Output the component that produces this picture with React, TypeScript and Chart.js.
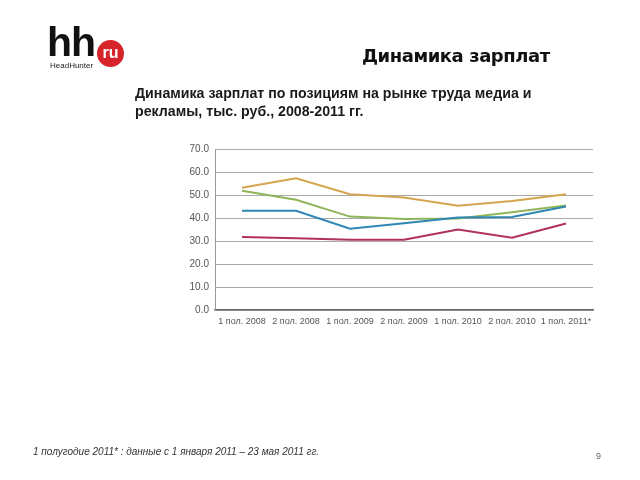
import React, { useEffect, useRef } from "react";
import { Chart, registerables } from "chart.js";

Chart.register(...registerables);

const categories = ["1 пол. 2008", "2 пол. 2008", "1 пол. 2009", "2 пол. 2009", "1 пол. 2010", "2 пол. 2010", "1 пол. 2011*"];
const seriesOrange = [53.2, 57.3, 50.3, 48.9, 45.3, 47.4, 50.3];
const seriesGreen = [51.8, 47.9, 40.6, 39.6, 39.8, 42.5, 45.4];
const seriesBlue = [43.1, 43.1, 35.3, 37.7, 40.2, 40.4, 45.0];
const seriesRed = [31.7, 31.2, 30.5, 30.5, 35.0, 31.4, 37.6];
const yTicks = [0, 10, 20, 30, 40, 50, 60, 70];

export default function App() {
  const ref = useRef<HTMLCanvasElement | null>(null);

  useEffect(() => {
    if (!ref.current) return;
    const mk = (data: number[], color: string) => ({
      data,
      borderColor: color,
      backgroundColor: color,
      borderWidth: 2,
      pointRadius: 0,
      tension: 0,
      fill: false,
    });
    const chart = new Chart(ref.current, {
      type: "line",
      data: {
        labels: categories,
        datasets: [
          mk(seriesRed, "#b03060"),
          mk(seriesBlue, "#2f86b3"),
          mk(seriesGreen, "#8fb55a"),
          mk(seriesOrange, "#d4a54e"),
        ],
      },
      options: {
        animation: false,
        responsive: false,
        maintainAspectRatio: false,
        layout: { padding: { left: 180, top: 149, right: 47, bottom: 150 } },
        plugins: { legend: { display: false }, tooltip: { enabled: false } },
        scales: {
          x: {
            offset: true,
            grid: { display: false, drawTicks: false },
            border: { display: true, color: "#666", width: 1.5 },
            ticks: {
              color: "#555",
              font: { family: "Liberation Sans, Arial", size: 9 },
              padding: 6,
              maxRotation: 0,
              autoSkip: false,
            },
            afterFit: (s: any) => {
              s.height = 20;
            },
          },
          y: {
            min: 0,
            max: 70,
            afterBuildTicks: (s: any) => {
              s.ticks = yTicks.map((v) => ({ value: v }));
            },
            grid: { color: "#aaa", lineWidth: 1, drawTicks: false },
            border: { display: true, color: "#999", width: 1 },
            ticks: {
              color: "#555",
              font: { family: "Liberation Sans, Arial", size: 10 },
              padding: 6,
              callback: (v: any) => Number(v).toFixed(1),
            },
            afterFit: (s: any) => {
              s.width = 35;
            },
          },
        },
      },
    });
    return () => chart.destroy();
  }, []);

  return (
    <div style={{ position: "fixed", left: 0, top: 0, width: 640, height: 480, background: "#fff", overflow: "hidden", fontFamily: "Liberation Sans, Arial, sans-serif" }}>
      <canvas ref={ref} width={640} height={480} style={{ position: "absolute", left: 0, top: 0, width: 640, height: 480 }} />
      {/* logo */}
      <div style={{ position: "absolute", left: 47, top: 22, fontSize: 41, fontWeight: 700, letterSpacing: -1, color: "#111", lineHeight: 1, fontFamily: "Liberation Sans, Arial" }}>hh</div>
      <div style={{ position: "absolute", left: 97, top: 40, width: 27, height: 27, borderRadius: "50%", background: "#d7232a", color: "#fff", fontSize: 16, fontWeight: 700, lineHeight: "25px", textAlign: "center", fontFamily: "Liberation Sans, Arial" }}>ru</div>
      <div style={{ position: "absolute", left: 50, top: 61, fontSize: 8, color: "#222", fontFamily: "Liberation Sans, Arial" }}>HeadHunter</div>
      {/* title */}
      <div style={{ position: "absolute", left: 362, top: 45, fontSize: 18, letterSpacing: -0.45, fontWeight: 700, color: "#111", fontFamily: "DejaVu Sans, Verdana", whiteSpace: "nowrap" }}>Динамика зарплат</div>
      <div style={{ position: "absolute", left: 135, top: 84, fontSize: 14.2, fontWeight: 700, color: "#1a1a1a", lineHeight: "18px", whiteSpace: "nowrap" }}>
        Динамика зарплат по позициям на рынке труда медиа и
        <br />
        рекламы, тыс. руб., 2008-2011 гг.
      </div>
      <div style={{ position: "absolute", left: 33, top: 446, fontSize: 10, fontStyle: "italic", color: "#333", whiteSpace: "nowrap" }}>
        1 полугодие 2011* : данные с 1 января 2011 – 23 мая 2011 гг.
      </div>
      <div style={{ position: "absolute", left: 596, top: 451, fontSize: 9, color: "#666" }}>9</div>
    </div>
  );
}
